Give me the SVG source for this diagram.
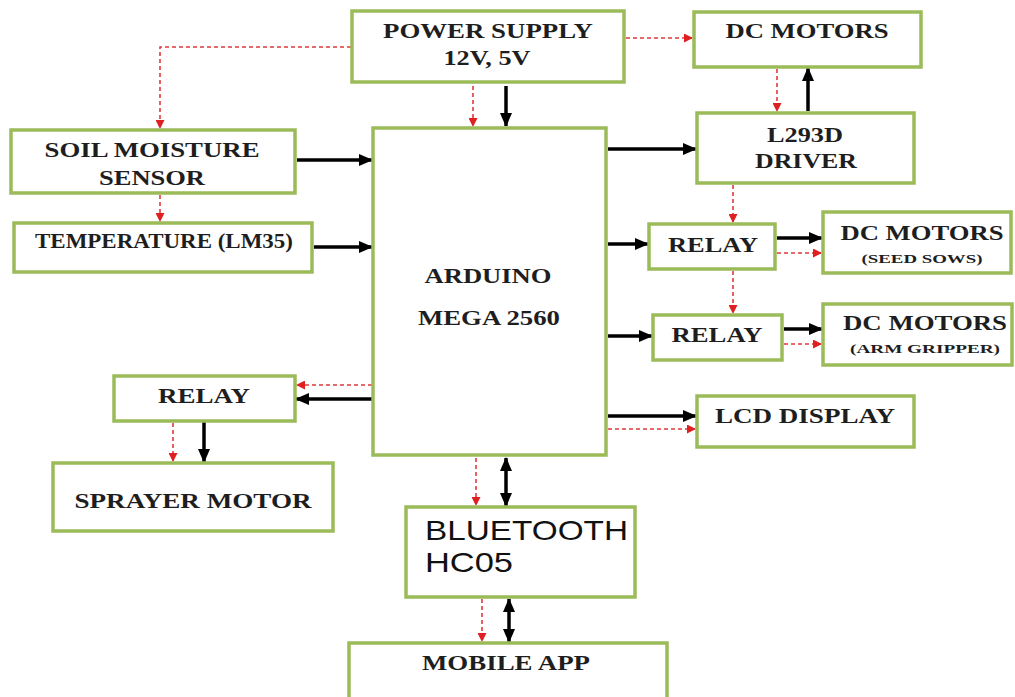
<svg xmlns="http://www.w3.org/2000/svg" width="1015" height="697" viewBox="0 0 1015 697">
<style>
.box{fill:#fff;stroke:#9bbb59;stroke-width:3.5}
.t{font-family:"Liberation Serif","Times New Roman",serif;font-weight:bold;fill:#1e1e1e;text-anchor:middle;font-size:20px}
.s{font-size:13px}
.bt{font-family:"Liberation Sans",Arial,sans-serif;fill:#111;font-size:28px}
.blk{stroke:#000;stroke-width:3.5;fill:none;marker-end:url(#ab)}
.dbl{marker-start:url(#ab)}
.red{stroke:#e03a3a;stroke-width:1.6;stroke-dasharray:4 3;fill:none;marker-end:url(#ar)}
</style>
<defs>
<marker id="ab" markerUnits="userSpaceOnUse" markerWidth="14" markerHeight="12" refX="13" refY="6" orient="auto-start-reverse"><path d="M0,0 L14,6 L0,12 Z" fill="#000"/></marker>
<marker id="ar" markerUnits="userSpaceOnUse" markerWidth="9" markerHeight="9" refX="8" refY="4.5" orient="auto"><path d="M0,0 L9,4.5 L0,9 Z" fill="#e02020"/></marker>
</defs>
<rect width="1015" height="697" fill="#fff"/>
<g id="connectors">
<path class="red" d="M351,47 H160 V128"/>
<path class="red" d="M626,38 H692"/>
<path class="red" d="M473,86 V126"/>
<path class="red" d="M160,195 V221"/>
<path class="red" d="M777,69 V111"/>
<path class="red" d="M733,185 V222"/>
<path class="red" d="M733,271 V313"/>
<path class="red" d="M777,253 H821"/>
<path class="red" d="M784,344 H821"/>
<path class="red" d="M608,429 H695"/>
<path class="red" d="M372,385 H297"/>
<path class="red" d="M173,423 V461"/>
<path class="red" d="M476,458 V505"/>
<path class="red" d="M482,599 V641"/>
<path class="blk" d="M506,86 V126"/>
<path class="blk" d="M297,160 H372"/>
<path class="blk" d="M314,247 H372"/>
<path class="blk" d="M608,149 H696"/>
<path class="blk" d="M808,111 V68"/>
<path class="blk" d="M608,244 H648"/>
<path class="blk" d="M777,238 H822"/>
<path class="blk" d="M608,336 H652"/>
<path class="blk" d="M784,329 H822"/>
<path class="blk" d="M608,416 H696"/>
<path class="blk" d="M372,399 H296"/>
<path class="blk" d="M204,422 V462"/>
<path class="blk dbl" d="M506,458 V506"/>
<path class="blk dbl" d="M509,599 V642"/>
</g>
<g id="power"><rect class="box" x="352" y="11" width="272" height="71"/><text class="t" x="488" y="38" textLength="210" lengthAdjust="spacingAndGlyphs">POWER SUPPLY</text><text class="t" x="487" y="65" textLength="87" lengthAdjust="spacingAndGlyphs">12V, 5V</text></g>
<g id="dc-top"><rect class="box" x="694" y="12" width="227" height="55"/><text class="t" x="807" y="38" textLength="163" lengthAdjust="spacingAndGlyphs">DC MOTORS</text></g>
<g id="l293d"><rect class="box" x="697" y="113" width="217" height="70"/><text class="t" x="805" y="142" textLength="76" lengthAdjust="spacingAndGlyphs">L293D</text><text class="t" x="806" y="168" textLength="102" lengthAdjust="spacingAndGlyphs">DRIVER</text></g>
<g id="soil"><rect class="box" x="11" y="130" width="284" height="63"/><text class="t" x="152" y="157" textLength="215" lengthAdjust="spacingAndGlyphs">SOIL MOISTURE</text><text class="t" x="152" y="185" textLength="106" lengthAdjust="spacingAndGlyphs">SENSOR</text></g>
<g id="temp"><rect class="box" x="14" y="223" width="298" height="49"/><text class="t" x="164" y="248" textLength="258" lengthAdjust="spacingAndGlyphs">TEMPERATURE (LM35)</text></g>
<g id="arduino"><rect class="box" x="373" y="128" width="233" height="327"/><text class="t" x="488" y="283" textLength="127" lengthAdjust="spacingAndGlyphs">ARDUINO</text><text class="t" x="489" y="325" textLength="142" lengthAdjust="spacingAndGlyphs">MEGA 2560</text></g>
<g id="relay1"><rect class="box" x="649" y="224" width="126" height="45"/><text class="t" x="713" y="252" textLength="90" lengthAdjust="spacingAndGlyphs">RELAY</text></g>
<g id="dc-seed"><rect class="box" x="823" y="212" width="188" height="61"/><text class="t" x="922" y="240" textLength="163" lengthAdjust="spacingAndGlyphs">DC MOTORS</text><text class="t s" x="922" y="263" textLength="121" lengthAdjust="spacingAndGlyphs">(SEED SOWS)</text></g>
<g id="relay2"><rect class="box" x="653" y="315" width="129" height="45"/><text class="t" x="717" y="342" textLength="91" lengthAdjust="spacingAndGlyphs">RELAY</text></g>
<g id="dc-arm"><rect class="box" x="823" y="304" width="189" height="61"/><text class="t" x="925" y="330" textLength="164" lengthAdjust="spacingAndGlyphs">DC MOTORS</text><text class="t s" x="925" y="353" textLength="150" lengthAdjust="spacingAndGlyphs">(ARM GRIPPER)</text></g>
<g id="lcd"><rect class="box" x="697" y="396" width="217" height="51"/><text class="t" x="805" y="423" textLength="180" lengthAdjust="spacingAndGlyphs">LCD DISPLAY</text></g>
<g id="relay-left"><rect class="box" x="114" y="376" width="181" height="45"/><text class="t" x="204" y="403" textLength="92" lengthAdjust="spacingAndGlyphs">RELAY</text></g>
<g id="sprayer"><rect class="box" x="53" y="463" width="280" height="68"/><text class="t" x="193" y="508" textLength="237" lengthAdjust="spacingAndGlyphs">SPRAYER MOTOR</text></g>
<g id="bluetooth"><rect class="box" x="406" y="507" width="229" height="90"/><text class="bt" x="425" y="540" textLength="203" lengthAdjust="spacingAndGlyphs">BLUETOOTH</text><text class="bt" x="425" y="572" textLength="88" lengthAdjust="spacingAndGlyphs">HC05</text></g>
<g id="mobile"><rect class="box" x="349" y="643" width="318" height="60"/><text class="t" x="506" y="670" textLength="168" lengthAdjust="spacingAndGlyphs">MOBILE APP</text></g>
</svg>
